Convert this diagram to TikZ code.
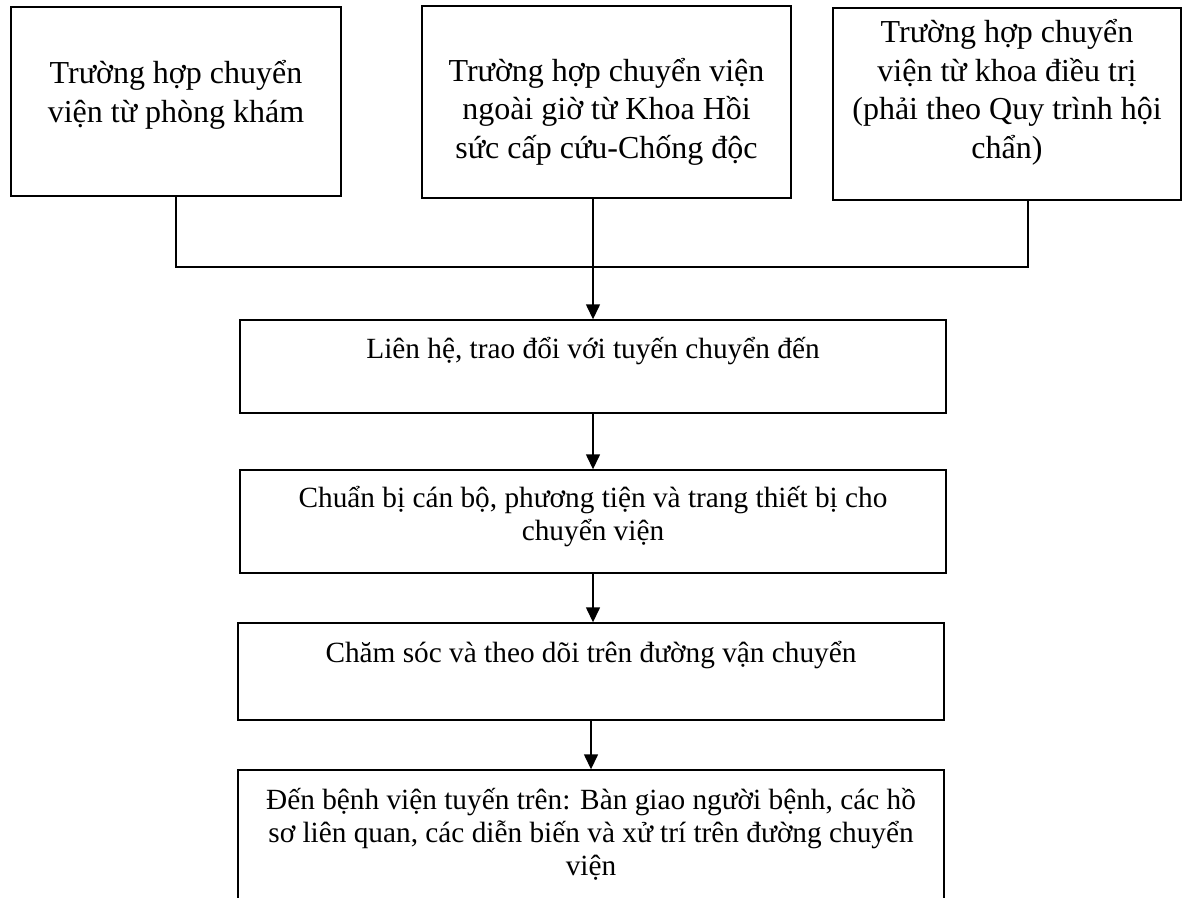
\documentclass[tikz,border=0pt]{standalone}
\usepackage{fontspec}
\setmainfont{Liberation Serif}
\usetikzlibrary{arrows.meta, positioning}

\begin{document}
\begin{tikzpicture}[
  x=1pt, y=-1pt,
  box/.style = {rectangle, draw, line width=1.4pt, inner sep=0pt},
  txt/.style = {font=\fontsize{32}{38.5}\selectfont, align=center,
                inner sep=0pt, anchor=base},
  steptxt/.style = {txt, font=\fontsize{29.3}{33}\selectfont},
  link/.style = {line width=1.4pt},
  arr/.style = {link, -{Triangle[length=15pt, width=14pt]}},
]
\clip (0,0) rectangle (1183,897);

% three starting cases
\node[box, minimum width=330pt, minimum height=189pt] (b1) at (176,101.5) {};
\node[box, minimum width=369pt, minimum height=192pt] (b2) at (606.5,102) {};
\node[box, minimum width=348pt, minimum height=192pt] (b3) at (1007,104) {};
\node[txt] (t1) at (176,122) {Trường hợp chuyển\\viện từ phòng khám};
\node[txt] (t2) at (606.5,158) {Trường hợp chuyển viện\\ngoài giờ từ Khoa Hồi\\sức cấp cứu-Chống độc};
\node[txt] (t3) at (1007,158) {Trường hợp chuyển\\viện từ khoa điều trị\\(phải theo Quy trình hội\\chẩn)};

% steps
\node[box, minimum width=706pt, minimum height=93pt]  (s1) at (593,366.5) {};
\node[box, minimum width=706pt, minimum height=103pt] (s2) at (593,521.5) {};
\node[box, minimum width=706pt, minimum height=97pt]  (s3) at (591,671.5) {};
\node[box, minimum width=706pt, minimum height=190pt] (s4) at (591,865) {};
\node[steptxt] (u1) at (593,358) {Liên hệ, trao đổi với tuyến chuyển đến};
\node[steptxt] (u2) at (593,540) {Chuẩn bị cán bộ, phương tiện và trang thiết bị cho\\chuyển viện};
\node[steptxt] (u3) at (591,662) {Chăm sóc và theo dõi trên đường vận chuyển};
\node[steptxt] (u4) at (591,875) {Đến bệnh viện tuyến trên: Bàn giao người bệnh, các hồ\\sơ liên quan, các diễn biến và xử trí trên đường chuyển\\viện};

\coordinate (b3foot) at ([xshift=21pt]b3.south);
\coordinate (bus) at (0,267);

\draw[link] (b1.south) |- (bus -| b3foot) -- (b3foot);
\draw[arr] (b2.south -| s1.north) -- (s1.north);
\draw[arr] (s1) -- (s2);
\draw[arr] (s2.south) -- (s2.south |- s3.north);
\draw[arr] (s3) -- (s4);

\end{tikzpicture}
\end{document}
